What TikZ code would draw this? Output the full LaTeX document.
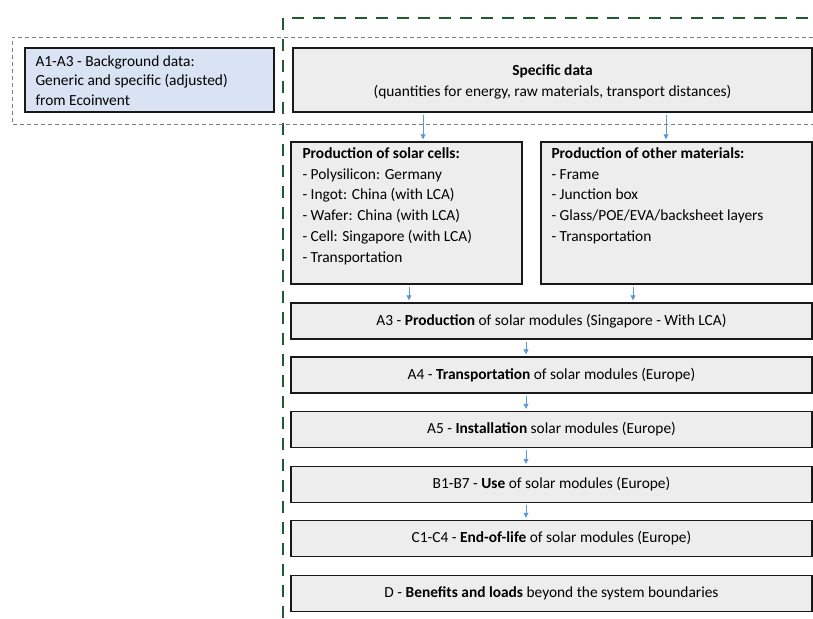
\documentclass[tikz,border=0pt]{standalone}
\usepackage{fontspec}
\setmainfont{Carlito}
\usepackage{xcolor}
\usetikzlibrary{arrows.meta, positioning, calc}
\definecolor{flowblue}{HTML}{5B9BD5}
\definecolor{bgblue}{HTML}{DAE3F3}
\definecolor{boxgrey}{HTML}{EDEDED}
\definecolor{sysgreen}{HTML}{1E5A32}
\definecolor{dotgrey}{HTML}{7F7F7F}

\begin{document}
\begin{tikzpicture}[
  x=1pt, y=-1pt,
  font=\fontsize{15.4}{20.8}\selectfont,
  databox/.style={rectangle, draw=black!90, line width=1.4pt, fill=boxgrey, inner sep=0pt},
  bgbox/.style={databox, fill=bgblue},
  stagebox/.style={databox, minimum width=521pt, minimum height=36pt, align=center},
  listtext/.style={anchor=north west, inner sep=0pt, align=left},
  flow/.style={-{Triangle[length=5pt, width=5pt]}, draw=flowblue, line width=0.8pt, shorten <=2pt, shorten >=2pt},
  sysline/.style={draw=sysgreen, line width=2.8pt, dash pattern=on 12pt off 9pt},
  bgline/.style={draw=dotgrey, line width=0.7pt, dash pattern=on 4pt off 3pt}
]
  \useasboundingbox (0,0) rectangle (813,618);

  % System boundary and background data frame
  \draw[sysline] (283,618) -- (283,18) -- (813,18);
  \draw[bgline] (813,37) -- (12,37) -- (12,124) -- (813,124);

  % Data sources
  \node[bgbox, minimum width=249pt, minimum height=64pt] (bg) at (149.5,80) {};
  \node[listtext, font=\fontsize{15.4}{19.8}\selectfont] (bgtxt) at ([xshift=11pt, yshift=-8pt]bg.north west)
    {A1-A3 - Background data:\\Generic and specific (adjusted)\\from Ecoinvent};
  \node[databox, minimum width=519pt, minimum height=64pt] (spec) at (552.5,80) {};
  \node[align=center, inner sep=0pt] (spectxt) at ([yshift=-2pt]spec.center)
    {\textbf{Specific data}\\(quantities for energy, raw materials, transport distances)};

  % Production of components
  \node[databox, minimum width=231pt, minimum height=142pt] (cells) at (406.5,213) {};
  \node[listtext] (cellstxt) at ([xshift=12pt, yshift=-6pt]cells.north west)
    {\textbf{Production of solar cells:}\\- Polysilicon: Germany\\- Ingot: China (with LCA)\\- Wafer: China (with LCA)\\- Cell: Singapore (with LCA)\\- Transportation};
  \node[databox, minimum width=271pt, minimum height=142pt] (other) at (676.5,213) {};
  \node[listtext] (othertxt) at ([xshift=11pt, yshift=-6pt]other.north west)
    {\textbf{Production of other materials:}\\- Frame\\- Junction box\\- Glass/POE/EVA/backsheet layers\\- Transportation};

  % Life cycle stages
  \node[stagebox] (a3) at (551.5,321)   {A3 - \textbf{Production} of solar modules (Singapore - With LCA)};
  \node[stagebox] (a4) at (551.5,375)   {A4 - \textbf{Transportation} of solar modules (Europe)};
  \node[stagebox] (a5) at (551.5,429.5) {A5 - \textbf{Installation} solar modules (Europe)};
  \node[stagebox] (b1) at (551.5,484.5) {B1-B7 - \textbf{Use} of solar modules (Europe)};
  \node[stagebox] (c1) at (551.5,538.5) {C1-C4 - \textbf{End-of-life} of solar modules (Europe)};
  \node[stagebox] (d)  at (551.5,593.5) {D - \textbf{Benefits and loads} beyond the system boundaries};

  % Flows
  \draw[flow] (spec.south -| 423,0) -- (cells.north -| 423,0);
  \draw[flow] (spec.south -| 666,0) -- (other.north -| 666,0);
  \draw[flow] (cells.south -| 409,0) -- (a3.north -| 409,0);
  \draw[flow] (other.south -| 633,0) -- (a3.north -| 633,0);
  \draw[flow] (a3.south -| 526,0) -- (a4.north -| 526,0);
  \draw[flow] (a4.south -| 526,0) -- (a5.north -| 526,0);
  \draw[flow] (a5.south -| 526,0) -- (b1.north -| 526,0);
  \draw[flow] (b1.south -| 526,0) -- (c1.north -| 526,0);
\end{tikzpicture}
\end{document}
